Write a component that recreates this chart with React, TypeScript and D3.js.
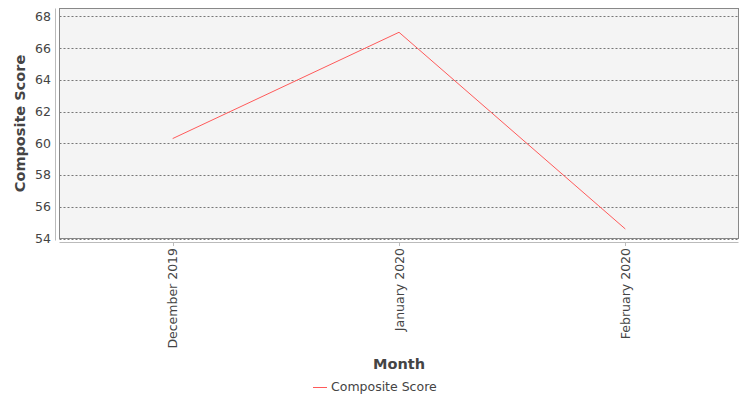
import { useEffect, useRef } from "react"
import * as d3 from "d3"

const months = ["December 2019", "January 2020", "February 2020"]
const compositeScore = [60.3, 67.0, 54.6]
const yTicks = [54, 56, 58, 60, 62, 64, 66, 68]
const seriesName = "Composite Score"

export default function App() {
  const svgRef = useRef<SVGSVGElement>(null)
  const width = 750
  const height = 400

  useEffect(() => {
    if (!svgRef.current) return
    const svg = d3.select(svgRef.current)
    svg.selectAll("*").remove()

    const left = 59.5, right = 738.5, top = 8.5, bottom = 238.5
    const font = "DejaVu Sans, sans-serif"

    const x = d3.scaleBand().domain(months).range([left, right]).padding(0)
    const y = d3.scaleLinear().domain([54, 68.5]).range([bottom, top])

    // plot background
    svg.append("rect")
      .attr("x", left).attr("y", top)
      .attr("width", right - left).attr("height", bottom - top)
      .attr("fill", "#f4f4f4")

    // gridlines
    svg.append("g").selectAll("line").data(yTicks).enter().append("line")
      .attr("x1", left).attr("x2", right)
      .attr("y1", d => Math.round(y(d)) + 0.5).attr("y2", d => Math.round(y(d)) + 0.5)
      .attr("stroke", "#777").attr("stroke-width", 1)
      .attr("stroke-dasharray", "2,2")

    svg.append("rect")
      .attr("x", left).attr("y", top)
      .attr("width", right - left).attr("height", bottom - top)
      .attr("fill", "none").attr("stroke", "#888")

    // y axis
    svg.append("line")
      .attr("x1", 55.5).attr("x2", 55.5).attr("y1", top).attr("y2", bottom + 2)
      .attr("stroke", "#bbb")
    svg.append("g").selectAll("text").data(yTicks).enter().append("text")
      .attr("x", 51).attr("y", d => y(d)).attr("dy", "0.35em")
      .attr("text-anchor", "end")
      .attr("font-family", font).attr("font-size", 12.5).attr("fill", "#444")
      .text(d => d)

    // x axis
    svg.append("line")
      .attr("x1", left).attr("x2", right).attr("y1", 242.5).attr("y2", 242.5)
      .attr("stroke", "#bbb")
    const cx = (d: string) => (x(d) as number) + x.bandwidth() / 2
    svg.append("g").selectAll("line").data(months).enter().append("line")
      .attr("x1", d => Math.round(cx(d)) + 0.5).attr("x2", d => Math.round(cx(d)) + 0.5)
      .attr("y1", 242.5).attr("y2", 246)
      .attr("stroke", "#bbb")
    svg.append("g").selectAll("text").data(months).enter().append("text")
      .attr("transform", d => `translate(${cx(d) + 4.5}, 248) rotate(-90)`)
      .attr("text-anchor", "end")
      .attr("font-family", font).attr("font-size", 12.5).attr("fill", "#444")
      .text(d => d)

    // line
    const line = d3.line<number>()
      .x((_, i) => cx(months[i]))
      .y(d => y(d))
    svg.append("path")
      .datum(compositeScore)
      .attr("d", line)
      .attr("fill", "none").attr("stroke", "#ff5a5a").attr("stroke-width", 1)

    // axis titles
    svg.append("text")
      .attr("transform", `translate(25, ${(top + bottom) / 2}) rotate(-90)`)
      .attr("text-anchor", "middle")
      .attr("font-family", font).attr("font-size", 14.5).attr("font-weight", "bold").attr("fill", "#444")
      .text("Composite Score")
    svg.append("text")
      .attr("x", (left + right) / 2).attr("y", 369)
      .attr("text-anchor", "middle")
      .attr("font-family", font).attr("font-size", 14.5).attr("font-weight", "bold").attr("fill", "#444")
      .text("Month")

    // legend
    svg.append("line")
      .attr("x1", 313).attr("x2", 327).attr("y1", 387.5).attr("y2", 387.5)
      .attr("stroke", "#ff5a5a")
    svg.append("text")
      .attr("x", 331).attr("y", 387).attr("dy", "0.35em")
      .attr("font-family", font).attr("font-size", 12.5).attr("fill", "#444")
      .text(seriesName)
  }, [])

  return (
    <svg
      ref={svgRef}
      width={width}
      height={height}
      style={{ position: "absolute", left: 0, top: 0, background: "#fff" }}
    />
  )
}
